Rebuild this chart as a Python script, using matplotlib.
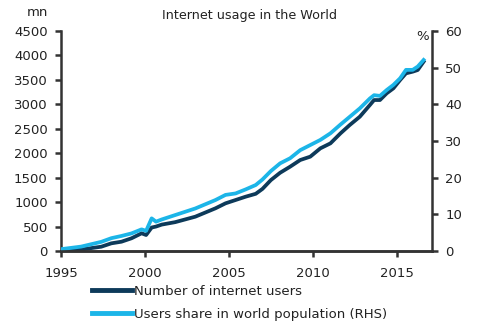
import matplotlib
matplotlib.use("Agg")
import matplotlib.pyplot as plt

# Values
years = [1995.0, 1996.2, 1997.4, 1998.0, 1998.6, 1999.2, 1999.8, 2000.07, 2000.4,
         2000.66, 2001.0, 2001.8, 2003.0, 2004.2, 2004.8, 2005.4, 2006.0, 2006.6,
         2007.0, 2007.5, 2008.05, 2008.65, 2009.25, 2009.85, 2010.45, 2011.05,
         2011.65, 2012.2, 2012.8, 2013.4, 2013.65, 2014.0, 2014.4, 2014.8,
         2015.2, 2015.55, 2015.95, 2016.25, 2016.6]
users_mn = [20, 30, 88, 157, 190, 260, 362, 327, 480,
            500, 540, 590, 702, 873, 975, 1043, 1111, 1170,
            1270, 1450, 1600, 1725, 1861, 1930, 2100, 2202,
            2407, 2577, 2747, 2986, 3088, 3088, 3225, 3327,
            3497, 3634, 3668, 3702, 3872]
share_pct = [0.5, 1.2, 2.5, 3.5, 4.1, 4.8, 5.9, 5.5, 8.9,
             8.0, 8.6, 9.8, 11.6, 13.9, 15.3, 15.7, 16.8, 18.0,
             19.5, 21.8, 23.9, 25.3, 27.5, 28.9, 30.3, 32.1,
             34.5, 36.6, 38.9, 41.6, 42.5, 42.3, 43.9, 45.3,
             47.1, 49.4, 49.4, 50.3, 52.1]

DARK = "#0d3a5a"
LIGHT = "#1cb5e8"
AXIS = "#333333"

fig = plt.figure(figsize=(4.89, 3.27), dpi=100)
ax = fig.add_axes([61 / 489, 1 - 251 / 327, 371 / 489, 220 / 327])
ax2 = ax.twinx()

line_users, = ax.plot(years, users_mn, color=DARK, lw=2.7, solid_joinstyle="round",
                      label="Number of internet users")
line_share, = ax2.plot(years, share_pct, color=LIGHT, lw=2.7, solid_joinstyle="round",
                       label="Users share in world population (RHS)")

ax.set_xlim(1995, 2017.1)
ax.set_ylim(0, 4500)
ax2.set_ylim(0, 60)
ax.set_xticks([1995, 2000, 2005, 2010, 2015])
ax.set_yticks(range(0, 4501, 500))
ax2.set_yticks(range(0, 61, 10))

for a in (ax, ax2):
    a.spines["top"].set_visible(False)
    for side in ("left", "right", "bottom"):
        a.spines[side].set_color(AXIS)
        a.spines[side].set_linewidth(1.8)
    a.tick_params(colors=AXIS, labelcolor="#222222", width=1.8, length=4.5,
                  labelsize=9.5, pad=5)
ax.tick_params(axis="x", pad=7)
ax.spines["right"].set_visible(False)
ax2.spines["left"].set_visible(False)

fig.text(250 / 489, 1 - 16 / 327, "Internet usage in the World", ha="center",
         va="center", fontsize=9.2, color="#222222")
fig.text(37 / 489, 1 - 12 / 327, "mn", ha="center", va="center", fontsize=9.5,
         color="#222222")
fig.text(423 / 489, 1 - 36 / 327, "%", ha="center", va="center", fontsize=9.5,
         color="#222222")

leg = fig.legend(handles=[line_users, line_share], loc="upper left",
                 bbox_to_anchor=(92 / 489, 1 - 285 / 327), frameon=False,
                 fontsize=9.5, handlelength=3.0, handletextpad=0.15,
                 labelspacing=0.75, borderpad=0, borderaxespad=0)
for h in leg.legend_handles:
    h.set_linewidth(3.5)
for t in leg.get_texts():
    t.set_color("#222222")

fig.savefig("out.png", dpi=100)
